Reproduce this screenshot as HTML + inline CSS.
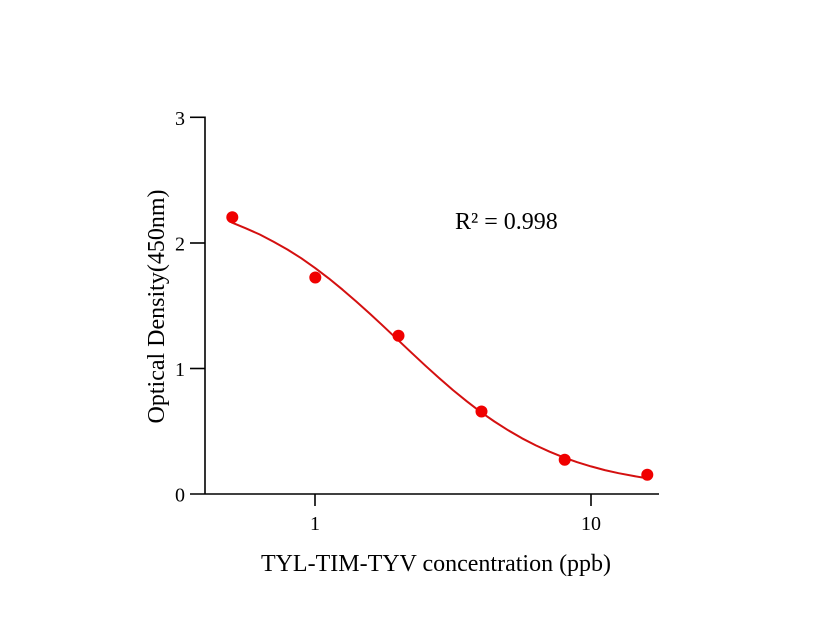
<!DOCTYPE html>
<html>
<head>
<meta charset="utf-8">
<style>
html,body{margin:0;padding:0;background:#fff;}
svg{display:block;}
text{font-family:"Liberation Serif","Times New Roman",serif;fill:#000;}
</style>
</head>
<body>
<svg width="816" height="640" viewBox="0 0 816 640" xmlns="http://www.w3.org/2000/svg">
<rect width="816" height="640" fill="#fff"/>
<!-- axes -->
<g stroke="#000" stroke-width="1.6" fill="none">
<line x1="205" y1="116.5" x2="205" y2="494"/>
<line x1="190" y1="494" x2="659" y2="494"/>
<line x1="190" y1="117.3" x2="205" y2="117.3"/>
<line x1="190" y1="243" x2="205" y2="243"/>
<line x1="190" y1="368.5" x2="205" y2="368.5"/>
<line x1="315" y1="494" x2="315" y2="506"/>
<line x1="591" y1="494" x2="591" y2="506"/>
</g>
<!-- y tick labels -->
<g font-size="20" text-anchor="end">
<text x="185" y="125">3</text>
<text x="185" y="250.5">2</text>
<text x="185" y="376">1</text>
<text x="185" y="501.5">0</text>
</g>
<!-- x tick labels -->
<g font-size="20" text-anchor="middle">
<text x="315" y="530">1</text>
<text x="591" y="530">10</text>
</g>
<!-- axis titles -->
<text x="436" y="571" font-size="24" text-anchor="middle">TYL-TIM-TYV concentration (ppb)</text>
<text transform="translate(164,306.5) rotate(-90)" font-size="24" text-anchor="middle">Optical Density(450nm)</text>
<text x="455" y="229" font-size="24">R² = 0.998</text>
<!-- curve -->
<polyline fill="none" stroke="#d41010" stroke-width="2" stroke-linejoin="round" stroke-linecap="round"
points="231.9,222.6 245.8,228.3 259.8,234.5 273.6,241.7 287.4,249.5 301.2,258.2 315,267.9 328.8,278.4 342.6,289.7 356.4,301.6 370.2,314.0 384.0,326.8 397.8,339.8 411.6,352.8 425.4,365.7 439.2,378.1 453,390.1 466.8,401.3 480.6,411.9 494.4,421.5 508.2,430.3 522.0,438.3 535.8,445.4 549.6,451.7 563.4,457.3 577.2,462.2 591,466.4 604.8,470.1 618.6,473.2 633.0,475.9 647.3,478.4"/>
<!-- points -->
<g fill="#f00000">
<circle cx="232.3" cy="217.3" r="6"/>
<circle cx="315.3" cy="277.5" r="6"/>
<circle cx="398.5" cy="335.8" r="6"/>
<circle cx="481.5" cy="411.5" r="6"/>
<circle cx="564.7" cy="459.7" r="6"/>
<circle cx="647.3" cy="474.8" r="6"/>
</g>
</svg>
</body>
</html>
